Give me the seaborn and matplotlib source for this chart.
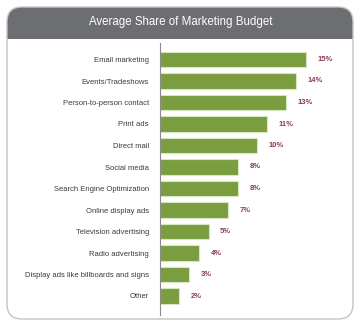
import matplotlib
matplotlib.use("Agg")
import matplotlib.pyplot as plt
from matplotlib.patches import FancyBboxPatch, Rectangle
import seaborn as sns
import pandas as pd

channels = [
    "Email marketing",
    "Events/Tradeshows",
    "Person-to-person contact",
    "Print ads",
    "Direct mail",
    "Social media",
    "Search Engine Optimization",
    "Online display ads",
    "Television advertising",
    "Radio advertising",
    "Display ads like billboards and signs",
    "Other",
]
share_pct = [15, 14, 13, 11, 10, 8, 8, 7, 5, 4, 3, 2]
title_text = "Average Share of Marketing Budget"

df = pd.DataFrame({"channel": channels, "share": share_pct})

sns.set_theme(style="white")
plt.rcParams["font.family"] = ["Liberation Sans", "DejaVu Sans"]

W, H = 361, 329
fig = plt.figure(figsize=(W / 100, H / 100), dpi=100)
fig.patch.set_facecolor("white")

# Card background drawn in pixel coordinates
bg = fig.add_axes([0, 0, 1, 1], zorder=0)
bg.set_xlim(0, W)
bg.set_ylim(H, 0)
bg.axis("off")

card_kw = dict(boxstyle="round,pad=0,rounding_size=15")
bg.add_patch(FancyBboxPatch((7, 7), 346, 312, facecolor="white",
                            edgecolor="none", **card_kw))
bg.add_patch(FancyBboxPatch((7, 7), 346, 50, facecolor="#6d6e71",
                            edgecolor="none", **card_kw))
bg.add_patch(Rectangle((7, 39), 346, 30, facecolor="white", edgecolor="none"))
bg.add_patch(FancyBboxPatch((7, 7), 346, 312, facecolor="none",
                            edgecolor="#c4c4c4", linewidth=1.0, **card_kw))
bg.text(180.5, 22, title_text, color="white", fontsize=8.3,
        ha="center", va="center")

# Bar chart
ax = fig.add_axes([160 / W, 1 - 315 / H, 180 / W, (315 - 43) / H], zorder=1)
ax.patch.set_alpha(0)
sns.barplot(data=df, x="share", y="channel", orient="h", ax=ax,
            color="#7a9e3f", saturation=1, width=0.7,
            edgecolor="#d8e6c2", linewidth=0.8)

ax.set_xlim(0, 18.5)
ax.set_ylim((315 - 59.5) / 21.5, (43 - 59.5) / 21.5)
ax.set_xlabel("")
ax.set_ylabel("")
ax.set_xticks([])
ax.tick_params(axis="y", length=0, pad=8, labelsize=5.5, labelcolor="#3a3a3a")

for s in ["top", "right", "bottom"]:
    ax.spines[s].set_visible(False)
ax.spines["left"].set_color("#8a8a8a")
ax.spines["left"].set_linewidth(0.8)

for i, v in enumerate(share_pct):
    ax.annotate(f"{v}%", xy=(v, i), xytext=(8.3, 0), textcoords="offset points",
                ha="left", va="center", fontsize=5.5, fontweight="bold",
                color="#8b3a5e")

fig.savefig("out.png", dpi=100, facecolor="white")
